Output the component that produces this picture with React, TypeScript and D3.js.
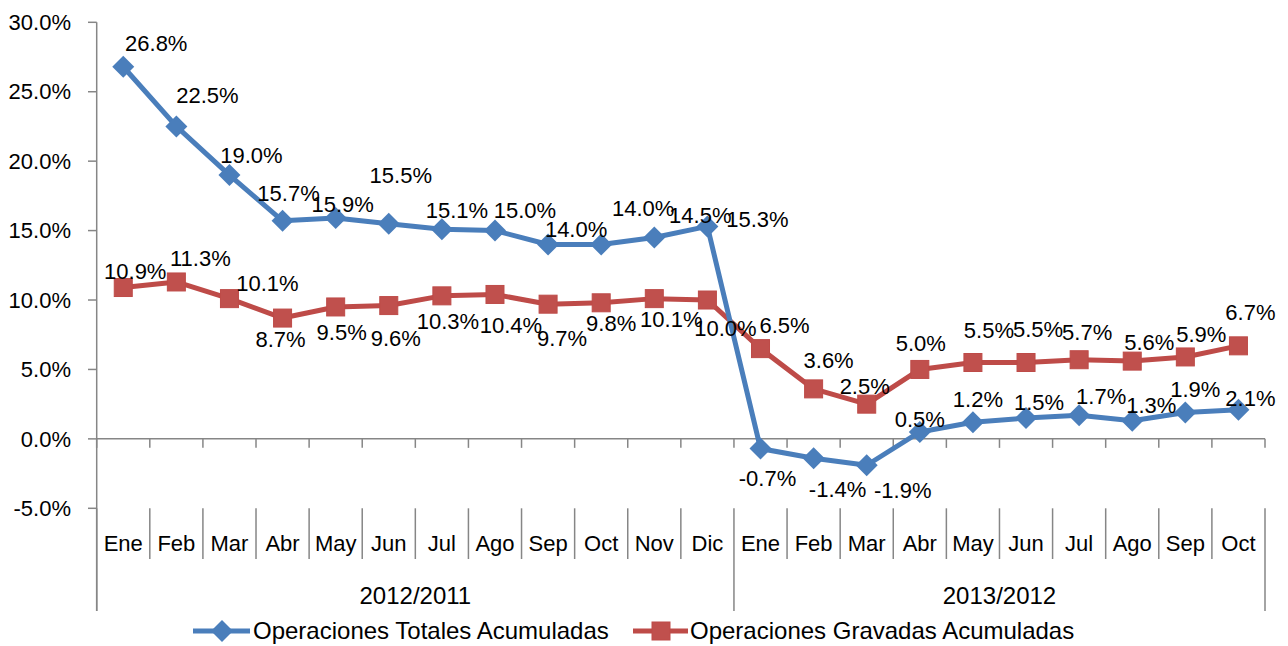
import React from "react";
import * as d3 from "d3";

const months = ["Ene","Feb","Mar","Abr","May","Jun","Jul","Ago","Sep","Oct","Nov","Dic","Ene","Feb","Mar","Abr","May","Jun","Jul","Ago","Sep","Oct"];
const groups = [
  { label: "2012/2011", start: 0, end: 12 },
  { label: "2013/2012", start: 12, end: 22 },
];
const totales = [26.8,22.5,19.0,15.7,15.9,15.5,15.1,15.0,14.0,14.0,14.5,15.3,-0.7,-1.4,-1.9,0.5,1.2,1.5,1.7,1.3,1.9,2.1];
const gravadas = [10.9,11.3,10.1,8.7,9.5,9.6,10.3,10.4,9.7,9.8,10.1,10.0,6.5,3.6,2.5,5.0,5.5,5.5,5.7,5.6,5.9,6.7];
const yTicks = [-5,0,5,10,15,20,25,30];
const seriesNames = ["Operaciones Totales Acumuladas","Operaciones Gravadas Acumuladas"];

// label offsets (px) relative to each point
const totDx = [33,31,22,6,7,12,15,30,28,42,46,50,7,24,36,0,5,13,22,19,10,12];
const totDy = [-23,-31,-20,-28,-14,-48,-19,-20,-15,-36,-22,-7,30,31,25,-13,-23,-16,-19,-16,-23,-11];
const gravDx = [12,24,38,-2,6,7,6,16,14,10,17,18,24,15,-2,1,16,12,8,17,16,12];
const gravDy = [-16,-24,-15,21,25,33,25,31,34,21,21,28,-23,-29,-18,-26,-32,-33,-27,-19,-23,-34];

const BLUE = "#4A7EBB";
const RED = "#BE4B48";
const RED_FILL = "#C0504D";
const AXIS = "#868686";
const FONT = "'Liberation Sans', Arial, sans-serif";

export default function App() {
  const W = 1288, H = 646;
  const x0 = 96.7, x1 = 1265;
  const yTop = 22.3, yBot = 508.3;
  const x = d3.scaleBand<number>().domain(d3.range(months.length)).range([x0, x1]).padding(0);
  const y = d3.scaleLinear().domain([-5, 30]).range([yBot, yTop]);
  const cx = (i: number) => (x(i) as number) + x.bandwidth() / 2;
  const line = d3.line<number>().x((_, i) => cx(i)).y((d) => y(d));
  const fmt = (v: number) => v.toFixed(1) + "%";
  const zeroY = y(0);

  const diamond = (px: number, py: number, r: number) =>
    `M${px},${py - r}L${px + r},${py}L${px},${py + r}L${px - r},${py}Z`;

  const legendY = 631;

  return (
    <svg width={W} height={H} style={{ position: "absolute", left: 0, top: 0, background: "#fff" }} fontFamily={FONT}>
      {/* y axis */}
      <line x1={x0} x2={x0} y1={yTop} y2={611} stroke={AXIS} strokeWidth={1.5} />
      {yTicks.map((t) => (
        <g key={t}>
          <line x1={88} x2={x0} y1={y(t)} y2={y(t)} stroke={AXIS} strokeWidth={1.5} />
          <text x={71} y={y(t)} dy="0.35em" textAnchor="end" fontSize={22} fill="#000">
            {t.toFixed(1) + "%"}
          </text>
        </g>
      ))}
      {/* x axis at zero */}
      <line x1={x0} x2={x1} y1={zeroY} y2={zeroY} stroke={AXIS} strokeWidth={1.5} />
      {d3.range(months.length + 1).map((i) => {
        const xx = i < months.length ? (x(i) as number) : x1;
        return <line key={"t" + i} x1={xx} x2={xx} y1={zeroY} y2={zeroY + 9} stroke={AXIS} strokeWidth={1.5} />;
      })}
      {/* category separators */}
      {d3.range(months.length + 1).map((i) => {
        const xx = i < months.length ? (x(i) as number) : x1;
        const major = groups.some((g) => g.start === i || g.end === i);
        return <line key={"s" + i} x1={xx} x2={xx} y1={yBot} y2={major ? 611 : 559} stroke={AXIS} strokeWidth={1.5} />;
      })}
      {months.map((m, i) => (
        <text key={"m" + i} x={cx(i)} y={551} textAnchor="middle" fontSize={22} fill="#000">{m}</text>
      ))}
      {groups.map((g) => {
        const a = x(g.start) as number;
        const b = g.end < months.length ? (x(g.end) as number) : x1;
        return (
          <text key={g.label} x={(a + b) / 2} y={604} textAnchor="middle" fontSize={24} fill="#000">{g.label}</text>
        );
      })}

      {/* series lines */}
      <path d={line(gravadas) || ""} fill="none" stroke={RED} strokeWidth={5} strokeLinejoin="round" />
      <path d={line(totales) || ""} fill="none" stroke={BLUE} strokeWidth={5} strokeLinejoin="round" />
      {gravadas.map((v, i) => (
        <rect key={"gr" + i} x={cx(i) - 9} y={y(v) - 9} width={18} height={18} fill={RED_FILL} stroke={RED} strokeWidth={1} />
      ))}
      {totales.map((v, i) => (
        <path key={"td" + i} d={diamond(cx(i), y(v), 11)} fill={BLUE} />
      ))}

      {/* data labels */}
      {totales.map((v, i) => (
        <text key={"tl" + i} x={cx(i) + totDx[i]} y={y(v) + totDy[i]} dy="0.35em" textAnchor="middle" fontSize={22} fill="#000">{fmt(v)}</text>
      ))}
      {gravadas.map((v, i) => (
        <text key={"gl" + i} x={cx(i) + gravDx[i]} y={y(v) + gravDy[i]} dy="0.35em" textAnchor="middle" fontSize={22} fill="#000">{fmt(v)}</text>
      ))}

      {/* legend */}
      <line x1={193} x2={250} y1={legendY} y2={legendY} stroke={BLUE} strokeWidth={5} />
      <path d={diamond(222, legendY, 11)} fill={BLUE} />
      <text x={253} y={legendY} dy="0.35em" fontSize={24} fill="#000">{seriesNames[0]}</text>
      <line x1={633} x2={688} y1={legendY} y2={legendY} stroke={RED} strokeWidth={5} />
      <rect x={652} y={legendY - 9} width={18} height={18} fill={RED_FILL} stroke={RED} strokeWidth={1} />
      <text x={690} y={legendY} dy="0.35em" fontSize={24} fill="#000">{seriesNames[1]}</text>
    </svg>
  );
}
